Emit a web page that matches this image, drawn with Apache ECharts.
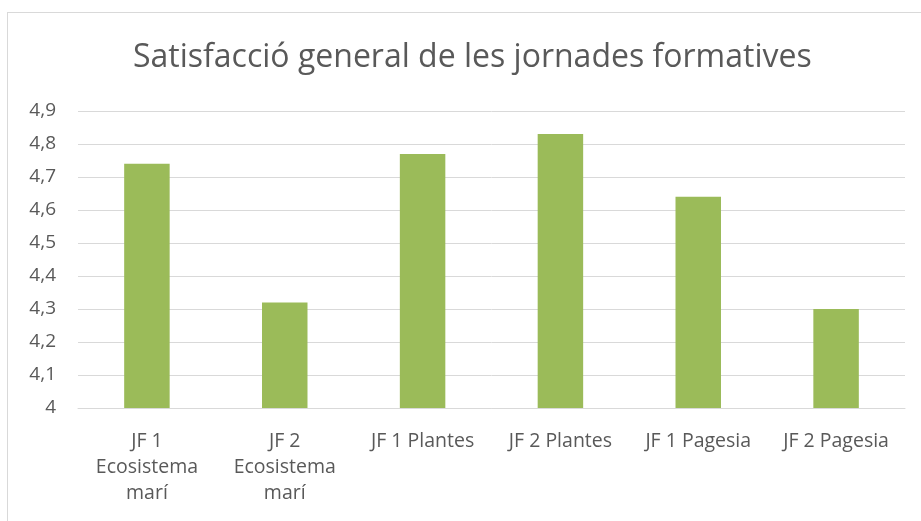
<!DOCTYPE html>
<html><head><meta charset="utf-8">
<script src="https://cdn.jsdelivr.net/npm/echarts@6/dist/echarts.min.js"></script>
<style>
html,body{margin:0;padding:0;background:#fff;}
#frame{position:absolute;left:7px;top:12px;width:920px;height:515px;border:1px solid #d9d9d9;box-sizing:border-box;}
#c{position:absolute;left:0;top:0;width:921px;height:521px;}
</style></head>
<body>
<div id="frame"></div>
<div id="c"></div>
<script>
const title = 'Satisfacció general de les jornades formatives';
const categories = ['JF 1\nEcosistema\nmarí', 'JF 2\nEcosistema\nmarí', 'JF 1 Plantes', 'JF 2 Plantes', 'JF 1 Pagesia', 'JF 2 Pagesia'];
const values = [4.74, 4.32, 4.77, 4.83, 4.64, 4.30];
const yTicks = {min: 4, max: 4.9, interval: 0.1};

const chart = echarts.init(document.getElementById('c'), null, {renderer: 'canvas'});
const font = "'Open Sans', 'Noto Sans', sans-serif";
chart.setOption({
  animation: false,
  title: {
    text: title, left: 128, top: 37,
    textStyle: {fontFamily: font, fontSize: 32, fontWeight: 'normal', color: '#595959'}
  },
  grid: {left: 78, right: 16, top: 111, bottom: 113, containLabel: false},
  xAxis: {
    type: 'category', data: categories,
    axisLine: {lineStyle: {color: '#d9d9d9', width: 1}},
    axisTick: {show: false},
    axisLabel: {fontFamily: font, fontSize: 19.5, color: '#595959', margin: 20, lineHeight: 26, interval: 0}
  },
  yAxis: {
    type: 'value', min: yTicks.min, max: yTicks.max, interval: yTicks.interval,
    axisLine: {show: false}, axisTick: {show: false},
    splitLine: {lineStyle: {color: '#d9d9d9', width: 1}},
    axisLabel: {
      fontFamily: font, fontSize: 19, color: '#595959', margin: 22,
      formatter: v => String(Math.round(v * 10) / 10).replace('.', ',')
    }
  },
  series: [{
    type: 'bar', data: values, barWidth: '33%',
    itemStyle: {color: '#9bbb59'}
  }]
});
</script>
</body></html>
